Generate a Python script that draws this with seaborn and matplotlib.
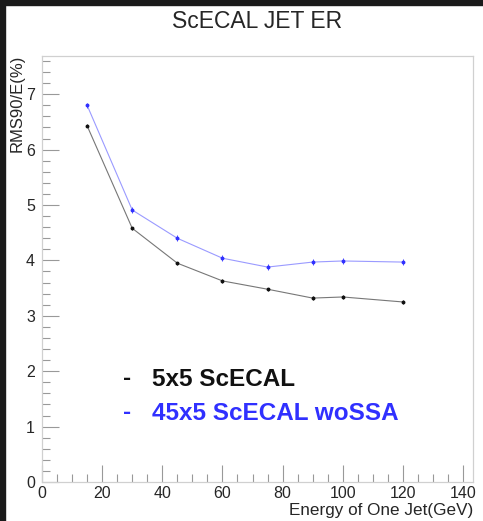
import matplotlib
matplotlib.use("Agg")
import matplotlib.pyplot as plt
import seaborn as sns
import pandas as pd
from matplotlib.ticker import MultipleLocator
from matplotlib.patches import Rectangle

# ---------- Data ----------
energy = [15, 30, 45, 60, 75, 90, 100, 120]
er_5x5 = [6.43, 4.58, 3.95, 3.63, 3.48, 3.32, 3.34, 3.25]
er_45x5 = [6.80, 4.91, 4.40, 4.04, 3.88, 3.97, 3.99, 3.97]
err_5x5 = [0.03, 0.03, 0.03, 0.03, 0.03, 0.03, 0.03, 0.03]
err_45x5 = [0.05, 0.05, 0.05, 0.05, 0.05, 0.05, 0.05, 0.05]
labels = ["5x5 ScECAL", "45x5 ScECAL woSSA"]
colors = ["#111111", "#3030ff"]
line_colors = ["#777777", "#9a9aff"]

df = pd.DataFrame({
    "energy": energy * 2,
    "er": er_5x5 + er_45x5,
    "err": err_5x5 + err_45x5,
    "setup": [labels[0]] * len(energy) + [labels[1]] * len(energy),
})

sns.set_style("ticks")
plt.rcParams["font.family"] = ["Liberation Sans", "DejaVu Sans"]

fig = plt.figure(figsize=(4.83, 5.21), dpi=100)
ax = fig.add_axes([42 / 483, 39 / 521, 431 / 483, 426 / 521])

# dark screenshot border
fig.patches.append(Rectangle((0, 0), 5 / 483, 1, transform=fig.transFigure,
                             color="#1a1a1a", zorder=-1))
fig.patches.append(Rectangle((0, 1 - 5 / 521), 1, 5 / 521, transform=fig.transFigure,
                             color="#1a1a1a", zorder=-1))

sns.lineplot(data=df, x="energy", y="er", hue="setup", palette=line_colors,
             linewidth=0.8, legend=False, ax=ax, errorbar=None)
for lab, c in zip(labels, colors):
    sub = df[df["setup"] == lab]
    ax.errorbar(sub["energy"], sub["er"], yerr=sub["err"], fmt="o", ms=1.8,
                color=c, ecolor=c, elinewidth=0.6, capsize=0, zorder=3)

ax.set_xlim(0, 143.3)
ax.set_ylim(0, 7.69)
ax.xaxis.set_major_locator(MultipleLocator(20))
ax.xaxis.set_minor_locator(MultipleLocator(5))
ax.yaxis.set_major_locator(MultipleLocator(1))
ax.yaxis.set_minor_locator(MultipleLocator(0.2))
ax.tick_params(which="both", direction="in", color="#999999", width=0.8,
               labelsize=11.5, top=False, right=False)
ax.tick_params(which="major", length=12)
ax.tick_params(which="minor", length=6)
ax.tick_params(axis="y", pad=5)
ax.tick_params(axis="x", pad=3)
for s in ax.spines.values():
    s.set_color("#d0d0d0")
    s.set_linewidth(0.9)

ax.set_xlabel("")
ax.set_ylabel("")
fig.text(473 / 483, 1 - 515 / 521, "Energy of One Jet(GeV)", ha="right",
         va="baseline", fontsize=12.3)
fig.text(25 / 483, 1 - 55 / 521, "RMS90/E(%)", ha="right", va="top",
         rotation=90, fontsize=12)
fig.text(257 / 483, 1 - 22 / 521, "ScECAL JET ER", ha="center", va="center",
         fontsize=16.5)

# legend text, drawn as in the original
for i, (lab, c) in enumerate(zip(labels, colors)):
    yy = 1 - (379 + 34 * i) / 521
    fig.text(123 / 483, yy, "-", ha="left", va="center",
             fontsize=17.5, fontweight="bold", color=c)
    fig.text(152 / 483, yy, lab, ha="left", va="center",
             fontsize=17.5, fontweight="bold", color=c)

fig.savefig("out.png", dpi=100)
